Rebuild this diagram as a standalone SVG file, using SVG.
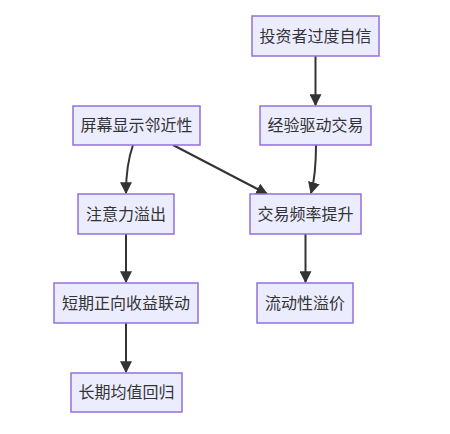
<svg xmlns="http://www.w3.org/2000/svg" width="450" height="434" viewBox="0 0 450 434">
<defs>
<style>
.node rect{fill:#ECECFF;stroke:#9370DB;stroke-width:1.5}
.node text{font-family:"Trebuchet MS","Liberation Sans","Noto Sans CJK SC",sans-serif;font-size:16px;fill:#333;text-anchor:middle}
.edges path{fill:none;stroke:#333;stroke-width:2;marker-end:url(#arrow)}
</style>
<marker id="arrow" viewBox="0 0 10 10" refX="9" refY="5" markerWidth="12" markerHeight="12" markerUnits="userSpaceOnUse" orient="auto">
<path d="M0,0 L10,5 L0,10 z" fill="#333"/>
</marker>
</defs>
<rect width="450" height="434" fill="#fff"/>
<g class="edges">
<path d="M315.5,56 L315.5,105"/>
<path d="M133,145 Q126,165 126,193"/>
<path d="M173,145 L267,194"/>
<path d="M316,145 Q316,175 311,193"/>
<path d="M126,234 L126,282"/>
<path d="M305.5,234 L305.5,282"/>
<path d="M126,323 L126,372"/>
</g>
<g id="n1" class="node"><rect x="252" y="16" width="127" height="40"/><text x="315.5" y="41.5">投资者过度自信</text></g>
<g id="n2" class="node"><rect x="260" y="106" width="111" height="39"/><text x="315.5" y="131">经验驱动交易</text></g>
<g id="n3" class="node"><rect x="73" y="106" width="127" height="39"/><text x="136.5" y="131">屏幕显示邻近性</text></g>
<g id="n4" class="node"><rect x="78" y="194" width="96" height="40"/><text x="126" y="219.5">注意力溢出</text></g>
<g id="n5" class="node"><rect x="250" y="194" width="111" height="40"/><text x="305.5" y="219.5">交易频率提升</text></g>
<g id="n6" class="node"><rect x="54" y="283" width="144" height="40"/><text x="126" y="308.5">短期正向收益联动</text></g>
<g id="n7" class="node"><rect x="257" y="283" width="96" height="40"/><text x="305" y="308.5">流动性溢价</text></g>
<g id="n8" class="node"><rect x="71" y="373" width="111" height="39"/><text x="126.5" y="398">长期均值回归</text></g>
</svg>
